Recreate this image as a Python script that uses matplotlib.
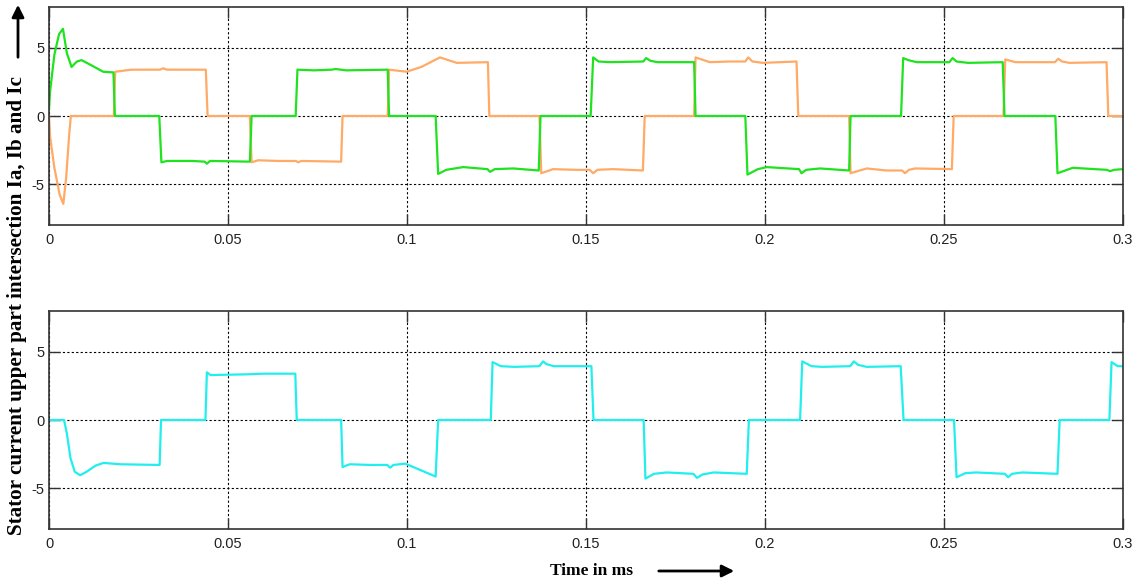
import matplotlib.pyplot as plt
import numpy as np

# time axis (ms) and three phase currents
green_t = [0.000, 0.0003, 0.0015, 0.0028, 0.0039, 0.0050, 0.0063, 0.0078, 0.0091, 0.0120, 0.0151, 0.0180, 0.0184,
           0.0308, 0.0314, 0.0330, 0.0400, 0.0435, 0.0441, 0.0450, 0.0561, 0.0566,
           0.0689, 0.0694, 0.0740, 0.0790, 0.0800, 0.0830, 0.0946, 0.0950,
           0.1080, 0.1087, 0.1110, 0.1157, 0.1225, 0.1232, 0.1245, 0.1297, 0.1368, 0.1373,
           0.1513, 0.1520, 0.1535, 0.1567, 0.1660, 0.1668, 0.1680, 0.1700, 0.1802, 0.1806,
           0.1945, 0.1951, 0.1980, 0.2005, 0.2095, 0.2102, 0.2115, 0.2154, 0.2235, 0.2239,
           0.2380, 0.2386, 0.2400, 0.2424, 0.2515, 0.2524, 0.2535, 0.2567, 0.2664, 0.2669,
           0.2811, 0.2817, 0.2860, 0.2920, 0.2955, 0.2964, 0.2975, 0.3000]
green_v = [0.5, 1.8, 4.5, 6.0, 6.4, 4.6, 3.6, 4.0, 4.1, 3.7, 3.25, 3.2, 0.0,
           0.0, -3.4, -3.3, -3.3, -3.35, -3.5, -3.3, -3.35, 0.0,
           0.0, 3.4, 3.35, 3.4, 3.45, 3.35, 3.4, 0.0,
           0.0, -4.25, -3.95, -3.75, -3.9, -4.1, -3.9, -3.85, -4.0, 0.0,
           0.0, 4.3, 4.0, 3.95, 4.0, 4.25, 4.05, 3.95, 3.95, 0.0,
           0.0, -4.3, -3.9, -3.75, -3.9, -4.2, -3.95, -3.85, -4.0, 0.0,
           0.0, 4.25, 4.1, 3.95, 3.95, 4.25, 4.0, 3.9, 3.95, 0.0,
           0.0, -4.2, -3.8, -3.9, -3.95, -4.05, -3.95, -3.9]

orange_t = [0.000, 0.0003, 0.0015, 0.0030, 0.0040, 0.0048, 0.0056, 0.0061, 0.0181, 0.0185, 0.0230, 0.0310, 0.0319, 0.0330,
            0.0438, 0.0443, 0.0561, 0.0566, 0.0584, 0.0640, 0.0690, 0.0696, 0.0705, 0.0816, 0.0820,
            0.0946, 0.0950, 0.0999, 0.1040, 0.1092, 0.1139, 0.1226, 0.1230,
            0.1370, 0.1375, 0.1408, 0.1470, 0.1510, 0.1520, 0.1532, 0.1576, 0.1659, 0.1664,
            0.1802, 0.1806, 0.1846, 0.1900, 0.1945, 0.1953, 0.1965, 0.1994, 0.2088, 0.2093,
            0.2235, 0.2239, 0.2284, 0.2340, 0.2383, 0.2391, 0.2402, 0.2420, 0.2522, 0.2527,
            0.2666, 0.2671, 0.2700, 0.2760, 0.2810, 0.2819, 0.2830, 0.2850, 0.2954, 0.2959, 0.3000]
orange_v = [0.0, -1.5, -3.8, -5.8, -6.45, -4.5, -1.5, 0.0, 0.0, 3.25, 3.4, 3.4, 3.5, 3.4,
            3.4, 0.0, 0.0, -3.4, -3.25, -3.3, -3.3, -3.4, -3.3, -3.35, 0.0,
            0.0, 3.4, 3.25, 3.6, 4.3, 3.9, 3.95, 0.0,
            0.0, -4.2, -3.9, -3.95, -3.95, -4.2, -3.95, -3.9, -4.0, 0.0,
            0.0, 4.3, 3.95, 4.0, 4.0, 4.3, 4.0, 3.9, 4.0, 0.0,
            0.0, -4.2, -3.85, -4.0, -4.0, -4.2, -3.95, -3.85, -3.9, 0.0,
            0.0, 4.15, 3.95, 3.95, 3.95, 4.2, 4.0, 3.9, 3.95, 0.0, 0.0]

cyan_t = [0.000, 0.0042, 0.0050, 0.0060, 0.0072, 0.0087, 0.0105, 0.0130, 0.0152, 0.0200, 0.0309, 0.0313,
          0.0437, 0.0441, 0.0451, 0.0550, 0.0600, 0.0688, 0.0692,
          0.0816, 0.0820, 0.0840, 0.0900, 0.0945, 0.0953, 0.0962, 0.0995, 0.1080, 0.1087,
          0.1234, 0.1239, 0.1262, 0.1300, 0.1370, 0.1380, 0.1390, 0.1410, 0.1515, 0.1521,
          0.1661, 0.1666, 0.1690, 0.1725, 0.1800, 0.1810, 0.1825, 0.1857, 0.1949, 0.1955,
          0.2098, 0.2104, 0.2130, 0.2160, 0.2238, 0.2248, 0.2260, 0.2284, 0.2379, 0.2387,
          0.2528, 0.2535, 0.2560, 0.2590, 0.2670, 0.2679, 0.2690, 0.2719, 0.2817, 0.2823,
          0.2962, 0.2968, 0.2985, 0.3000]
cyan_v = [0.0, 0.0, -1.0, -2.8, -3.8, -4.05, -3.8, -3.35, -3.15, -3.25, -3.3, 0.0,
          0.0, 3.5, 3.3, 3.35, 3.4, 3.4, 0.0,
          0.0, -3.45, -3.25, -3.3, -3.3, -3.5, -3.3, -3.2, -4.15, 0.0,
          0.0, 4.25, 3.95, 3.9, 3.95, 4.3, 4.1, 3.95, 3.95, 0.0,
          0.0, -4.3, -3.95, -3.85, -3.95, -4.25, -4.0, -3.85, -3.95, 0.0,
          0.0, 4.3, 3.95, 3.9, 3.95, 4.3, 4.05, 3.9, 3.95, 0.0,
          0.0, -4.2, -3.9, -3.85, -3.95, -4.2, -3.95, -3.85, -3.95, 0.0,
          0.0, 4.25, 3.95, 3.95]

xticks = [0, 0.05, 0.1, 0.15, 0.2, 0.25, 0.3]
xticklabels = ['0', '0.05', '0.1', '0.15', '0.2', '0.25', '0.3']
yticks = [-5, 0, 5]

green = '#1ee31e'
orange = '#ffaa66'
cyan = '#22eeee'

tickfont = ['Liberation Sans Narrow', 'Liberation Sans', 'DejaVu Sans']

fig = plt.figure(figsize=(11.37, 5.85), dpi=100)
ax1 = fig.add_axes([49/1137, 1-225/585, (1123-49)/1137, 218/585])
ax2 = fig.add_axes([49/1137, 1-529/585, (1123-49)/1137, 218/585])

ax1.plot(orange_t, orange_v, color=orange, lw=1.6)
ax1.plot(green_t, green_v, color=green, lw=1.6)
ax2.plot(cyan_t, cyan_v, color=cyan, lw=1.6)

for ax in (ax1, ax2):
    ax.set_xlim(0, 0.3)
    ax.set_ylim(-8, 8)
    ax.set_xticks(xticks)
    ax.set_xticklabels(xticklabels)
    ax.set_yticks(yticks)
    ax.set_yticklabels([str(v) for v in yticks])
    ax.grid(True, color='black', linestyle=(0, (2, 2)), linewidth=0.8)
    ax.tick_params(direction='in', length=8, width=1, top=True, right=True,
                   colors='#333333', labelcolor='#222222', labelsize=10.5)
    ax.tick_params(axis='x', pad=6)
    for lab in ax.get_xticklabels() + ax.get_yticklabels():
        lab.set_family(tickfont)
    for s in ax.spines.values():
        s.set_color('#333333')
        s.set_linewidth(1.2)

fig.text(17/1137, 1-306/585, 'Stator current upper part intersection Ia, Ib and Ic',
         rotation=90, ha='center', va='center', fontsize=15.2, fontweight='bold',
         family='Liberation Serif')
ax1.annotate('', xy=(18/1137, 1-2/585), xytext=(18/1137, 1-60/585),
             xycoords='figure fraction', textcoords='figure fraction', annotation_clip=False,
             arrowprops=dict(arrowstyle='-|>', color='black', lw=2, mutation_scale=18))

fig.text(592/1137, 1-571/585, 'Time in ms', ha='center', va='center',
         fontsize=12.5, fontweight='bold', family='Liberation Serif')
ax2.annotate('', xy=(737/1137, 1-571/585), xytext=(656/1137, 1-571/585),
             xycoords='figure fraction', textcoords='figure fraction', annotation_clip=False,
             arrowprops=dict(arrowstyle='-|>', color='black', lw=2, mutation_scale=18))

fig.savefig('out.png', dpi=100)
